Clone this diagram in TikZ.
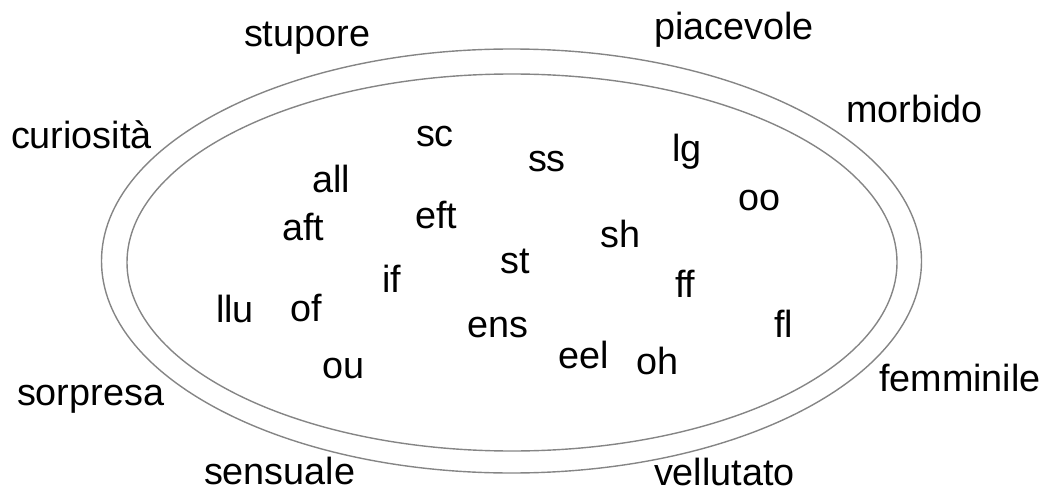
\documentclass[tikz,border=0pt]{standalone}
\usepackage{fontspec}
\setmainfont{Liberation Sans}
\begin{document}
\begin{tikzpicture}[x=1pt,y=-1pt,
  ring/.style={draw=black!48,line width=1.4pt},
  word/.style={anchor=base west,inner sep=0pt,outer sep=0pt,font=\fontsize{37.8}{40}\selectfont}]
\useasboundingbox (0,0) rectangle (1046,492);
\draw[ring] (511.5,261) ellipse [x radius=410,y radius=212];
\draw[ring] (512,262.5) ellipse [x radius=385,y radius=188.5];
% outer words
\node[word] (stupore) at (244,47) {stupore};
\node[word] (piacevole) at (654,40) {piacevole};
\node[word] (morbido) at (846,122.7) {morbido};
\node[word] (curiosita) at (11,149) {curiosità};
\node[word] (sorpresa) at (17,405) {sorpresa};
\node[word] (sensuale) at (204,484.5) {sensuale};
\node[word] (vellutato) at (654,485) {vellutato};
\node[word] (femminile) at (879,391) {femminile};
% inner words
\node[word] (sc) at (416,146.7) {sc};
\node[word] (all) at (312,192.7) {all};
\node[word] (aft) at (282,240.7) {aft};
\node[word] (eft) at (415,228.3) {eft};
\node[word] (ss) at (528,171.7) {ss};
\node[word] (lg) at (672,161.7) {lg};
\node[word] (oo) at (738,210.7) {oo};
\node[word] (sh) at (600.5,247.3) {sh};
\node[word] (st) at (500.5,273.5) {st};
\node[word] (llu) at (216,322.3) {llu};
\node[word] (of) at (290.5,321) {of};
\node[word] (if) at (382,292.3) {if};
\node[word] (ens) at (467,337.3) {ens};
\node[word] (ou) at (322.5,378.3) {ou};
\node[word] (ff) at (675,297.3) {ff};
\node[word] (fl) at (774,337.3) {fl};
\node[word] (eel) at (558,368.3) {eel};
\node[word] (oh) at (636,374) {oh};
\end{tikzpicture}
\end{document}
